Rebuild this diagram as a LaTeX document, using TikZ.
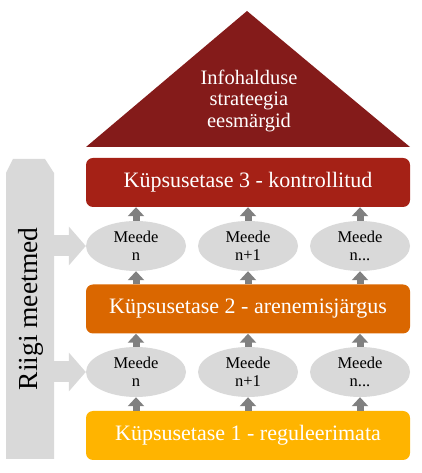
\documentclass[tikz,border=0pt]{standalone}
\usepackage{fontspec}
\setmainfont{Liberation Serif}
\usepackage{tikz}
\usepackage{xcolor}
\usetikzlibrary{positioning,shapes,arrows.meta}
\definecolor{roofred}{HTML}{841B1A}
\definecolor{lvlthree}{HTML}{A52116}
\definecolor{lvltwo}{HTML}{DA6700}
\definecolor{lvlone}{HTML}{FFB400}
\definecolor{meedegray}{HTML}{D9D9D9}
\definecolor{arrgray}{HTML}{808080}

\begin{document}
\begin{tikzpicture}[x=1pt,y=1pt,
  level/.style={rounded corners=7pt,minimum width=324pt,minimum height=49pt,inner sep=0pt,text=white,font=\fontsize{22}{24}\selectfont},
  meede/.style={ellipse,fill=meedegray,minimum width=100pt,minimum height=50pt,inner sep=0pt,align=center,font=\fontsize{16.5}{18}\selectfont},
  uparr/.style={arrgray,line width=7pt,-{Triangle[width=16pt,length=9pt]}},
  sidearr/.style={meedegray,line width=21pt,-{Triangle[width=38pt,length=17pt]}}]
  \useasboundingbox (0,0) rectangle (422,473);
  \fill[roofred] (86,326) -- (247,462) -- (410,326) -- cycle;
  \node[text=white,align=center,font=\fontsize{20.5}{21.5}\selectfont] (goal) at (249,372) {Infohalduse\\strateegia\\eesmärgid};
  \fill[meedegray] (6,14) -- (6,300) -- (13,314) -- (45,314) -- (54,300) -- (54,14) -- cycle;
  \node[rotate=90,font=\fontsize{27.5}{30}\selectfont] (riigi) at (31,164) {Riigi meetmed};
  \coordinate (col) at (54,164);
  \node[level,fill=lvlthree] (lvl3) at (248,290.5) {Küpsusetase 3 - kontrollitud};
  \node[level,fill=lvltwo] (lvl2) at (248,164) {Küpsusetase 2 - arenemisjärgus};
  \node[level,fill=lvlone] (lvl1) at (248,37.5) {Küpsusetase 1 - reguleerimata};
  \node[meede] (m31) at (136,227) {Meede\\n};
  \node[meede] (m32) at (248,227) {Meede\\n+1};
  \node[meede] (m33) at (360,227) {Meede\\n...};
  \node[meede] (m21) at (136,101) {Meede\\n};
  \node[meede] (m22) at (248,101) {Meede\\n+1};
  \node[meede] (m23) at (360,101) {Meede\\n...};
  \draw[sidearr] (col |- m31.west) -- (m31.west);
  \draw[sidearr] (col |- m21.west) -- (m21.west);
  \draw[uparr] (m31.north) -- (m31.north |- lvl3.south);
  \draw[uparr] (m32.north) -- (m32.north |- lvl3.south);
  \draw[uparr] (m33.north) -- (m33.north |- lvl3.south);
  \draw[uparr] (m31.south |- lvl2.north) -- (m31.south);
  \draw[uparr] (m32.south |- lvl2.north) -- (m32.south);
  \draw[uparr] (m33.south |- lvl2.north) -- (m33.south);
  \draw[uparr] (m21.north) -- (m21.north |- lvl2.south);
  \draw[uparr] (m22.north) -- (m22.north |- lvl2.south);
  \draw[uparr] (m23.north) -- (m23.north |- lvl2.south);
  \draw[uparr] (m21.south |- lvl1.north) -- (m21.south);
  \draw[uparr] (m22.south |- lvl1.north) -- (m22.south);
  \draw[uparr] (m23.south |- lvl1.north) -- (m23.south);
\end{tikzpicture}
\end{document}
